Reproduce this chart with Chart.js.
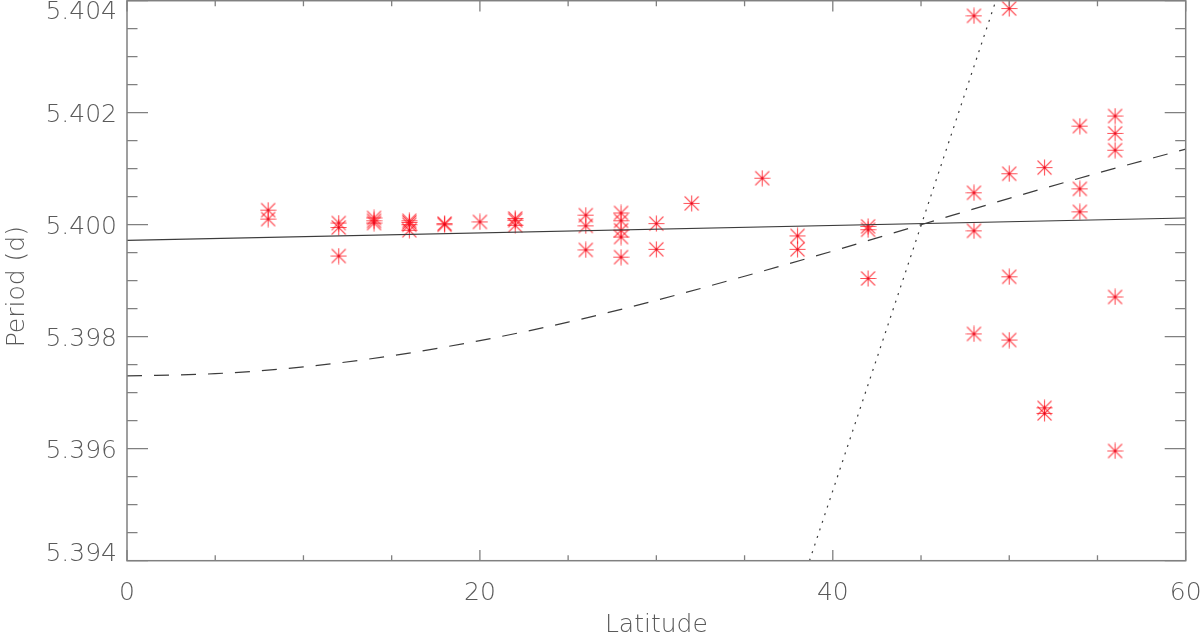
<!DOCTYPE html>
<html>
<head>
<meta charset="utf-8">
<script src="https://cdn.jsdelivr.net/npm/chart.js@4/dist/chart.umd.min.js"></script>
<style>
  html, body { margin: 0; padding: 0; background: #ffffff; }
  #wrap { width: 1200px; height: 632px; position: relative; }
</style>
</head>
<body>
<div id="wrap"><canvas id="c" width="1200" height="632"></canvas></div>
<script>
// ---- data ----
const latitudes = [
  8, 8,
  12, 12, 12,
  14, 14, 14,
  16, 16, 16, 16,
  18, 18,
  20,
  22, 22, 22,
  26, 26, 26,
  28, 28, 28, 28, 28,
  30, 30,
  32,
  36,
  38, 38,
  42, 42, 42,
  48, 48, 48, 48,
  50, 50, 50, 50,
  52, 52, 52,
  54, 54, 54,
  56, 56, 56, 56, 56
];
const periods = [
  5.40026, 5.40010,
  5.40003, 5.39995, 5.39944,
  5.40012, 5.40007, 5.40003,
  5.40007, 5.40004, 5.40000, 5.39990,
  5.40002, 5.40000,
  5.40005,
  5.40011, 5.40008, 5.39999,
  5.40017, 5.39998, 5.39955,
  5.40021, 5.40007, 5.39990, 5.39978, 5.39942,
  5.40002, 5.39956,
  5.40038,
  5.40083,
  5.39980, 5.39956,
  5.39997, 5.39991, 5.39904,
  5.40373, 5.40057, 5.39989, 5.39805,
  5.40386, 5.40091, 5.39907, 5.39794,
  5.40102, 5.39673, 5.39663,
  5.40176, 5.40064, 5.40023,
  5.40194, 5.40163, 5.40133, 5.39871, 5.39596
];

// solid fit line
const solidLat = [0, 60];
const solidPeriod = [5.39972, 5.40012];

// dashed curve
const dashedLat = [0, 5, 10, 15, 20, 25, 30, 35, 40, 45, 50, 55, 60];
const dashedPeriod = [5.39730, 5.39734, 5.39746, 5.39766, 5.39793, 5.39826, 5.39865,
                      5.39908, 5.39953, 5.40000, 5.40047, 5.40092, 5.40135];

// dotted steep line
const dottedLat = [38.68, 49.24];
const dottedPeriod = [5.3940, 5.4040];

// axes
const xMajorTicks = [0, 20, 40, 60];
const xTickLabels = ['0', '20', '40', '60'];
const xMinorTicks = [5, 10, 15, 25, 30, 35, 45, 50, 55];
const yMajorTicks = [5.394, 5.396, 5.398, 5.400, 5.402, 5.404];
const yTickLabels = ['5.394', '5.396', '5.398', '5.400', '5.402', '5.404'];
const yMinorTicks = [5.3945, 5.395, 5.3955, 5.3965, 5.397, 5.3975, 5.3985, 5.399, 5.3995,
                     5.4005, 5.401, 5.4015, 5.4025, 5.403, 5.4035];
const xTitle = 'Latitude';
const yTitle = 'Period (d)';

// ---- helpers ----
function zip(xs, ys) { return xs.map((x, i) => ({ x: x, y: ys[i] })); }

function makeStar() {
  const s = 17;
  const cv = document.createElement('canvas');
  cv.width = s; cv.height = s;
  const g = cv.getContext('2d');
  g.strokeStyle = 'rgba(255,20,30,0.75)';
  g.lineWidth = 1.1;
  g.beginPath();
  g.moveTo(8.5, 0.5); g.lineTo(8.5, 16.5);
  g.moveTo(0.5, 8.5); g.lineTo(16.5, 8.5);
  g.moveTo(1.5, 1.5); g.lineTo(15.5, 15.5);
  g.moveTo(15.5, 1.5); g.lineTo(1.5, 15.5);
  g.stroke();
  g.fillStyle = '#e0001a';
  g.fillRect(7.5, 7.5, 2, 2);
  return cv;
}

const FONT = '200 25px "DejaVu Sans", "Liberation Sans", sans-serif';
const TEXT_COLOR = '#5a5a5a';
const AXIS_COLOR = '#808080';

const axesPlugin = {
  id: 'idlAxes',
  afterDatasetsDraw(chart) {
    const ctx = chart.ctx;
    const a = chart.chartArea;
    const xs = chart.scales.x, ys = chart.scales.y;
    ctx.save();
    ctx.strokeStyle = AXIS_COLOR;
    ctx.lineWidth = 1.5;
    ctx.strokeRect(a.left, a.top, a.right - a.left, a.bottom - a.top);

    ctx.lineWidth = 1.3;
    ctx.beginPath();
    const xMajLen = 10.7, xMinLen = 5.5, yMajLen = 21, yMinLen = 10.5;
    xMajorTicks.forEach(v => {
      const p = xs.getPixelForValue(v);
      ctx.moveTo(p, a.bottom); ctx.lineTo(p, a.bottom - xMajLen);
      ctx.moveTo(p, a.top); ctx.lineTo(p, a.top + xMajLen);
    });
    xMinorTicks.forEach(v => {
      const p = xs.getPixelForValue(v);
      ctx.moveTo(p, a.bottom); ctx.lineTo(p, a.bottom - xMinLen);
      ctx.moveTo(p, a.top); ctx.lineTo(p, a.top + xMinLen);
    });
    yMajorTicks.forEach(v => {
      const p = ys.getPixelForValue(v);
      ctx.moveTo(a.left, p); ctx.lineTo(a.left + yMajLen, p);
      ctx.moveTo(a.right, p); ctx.lineTo(a.right - yMajLen, p);
    });
    yMinorTicks.forEach(v => {
      const p = ys.getPixelForValue(v);
      ctx.moveTo(a.left, p); ctx.lineTo(a.left + yMinLen, p);
      ctx.moveTo(a.right, p); ctx.lineTo(a.right - yMinLen, p);
    });
    ctx.stroke();

    // labels
    ctx.fillStyle = TEXT_COLOR;
    ctx.font = FONT;
    const capH = 18.2;
    ctx.textAlign = 'right';
    ctx.textBaseline = 'alphabetic';
    yMajorTicks.forEach((v, i) => {
      const p = ys.getPixelForValue(v);
      let base = p + capH / 2;
      if (base - capH < 0) base = capH + 0.8;
      if (base > a.bottom) base = a.bottom;
      ctx.fillText(yTickLabels[i], a.left - 10, base);
    });
    ctx.textAlign = 'center';
    xMajorTicks.forEach((v, i) => {
      const p = xs.getPixelForValue(v);
      ctx.fillText(xTickLabels[i], p, a.bottom + 39.5);
    });
    ctx.fillText(xTitle, (a.left + a.right) / 2, 631.5);

    ctx.translate(23.5, (a.top + a.bottom) / 2 + 6);
    ctx.rotate(-Math.PI / 2);
    ctx.textBaseline = 'alphabetic';
    ctx.fillText(yTitle, 0, 0);
    ctx.restore();
  }
};

const star = makeStar();

new Chart(document.getElementById('c'), {
  type: 'scatter',
  data: {
    datasets: [
      {
        type: 'line',
        data: zip(solidLat, solidPeriod),
        borderColor: '#3c3c3c',
        borderWidth: 1.2,
        pointRadius: 0,
        fill: false,
        tension: 0
      },
      {
        type: 'line',
        data: zip(dashedLat, dashedPeriod),
        borderColor: '#3c3c3c',
        borderWidth: 1.2,
        borderDash: [15, 12],
        pointRadius: 0,
        fill: false,
        cubicInterpolationMode: 'monotone'
      },
      {
        type: 'line',
        data: zip(dottedLat, dottedPeriod),
        borderColor: '#3c3c3c',
        borderWidth: 1.2,
        borderDash: [2, 6],
        pointRadius: 0,
        fill: false,
        tension: 0
      },
      {
        type: 'scatter',
        data: zip(latitudes, periods),
        pointStyle: star,
        pointRadius: 8,
        showLine: false
      }
    ]
  },
  options: {
    responsive: false,
    animation: false,
    devicePixelRatio: 1,
    layout: { autoPadding: false, padding: { left: 127, right: 14.3, top: 0.7, bottom: 71.3 } },
    plugins: { legend: { display: false }, tooltip: { enabled: false } },
    scales: {
      x: { type: 'linear', min: 0, max: 60, display: false },
      y: { type: 'linear', min: 5.394, max: 5.404, display: false }
    }
  },
  plugins: [axesPlugin]
});
</script>
</body>
</html>
